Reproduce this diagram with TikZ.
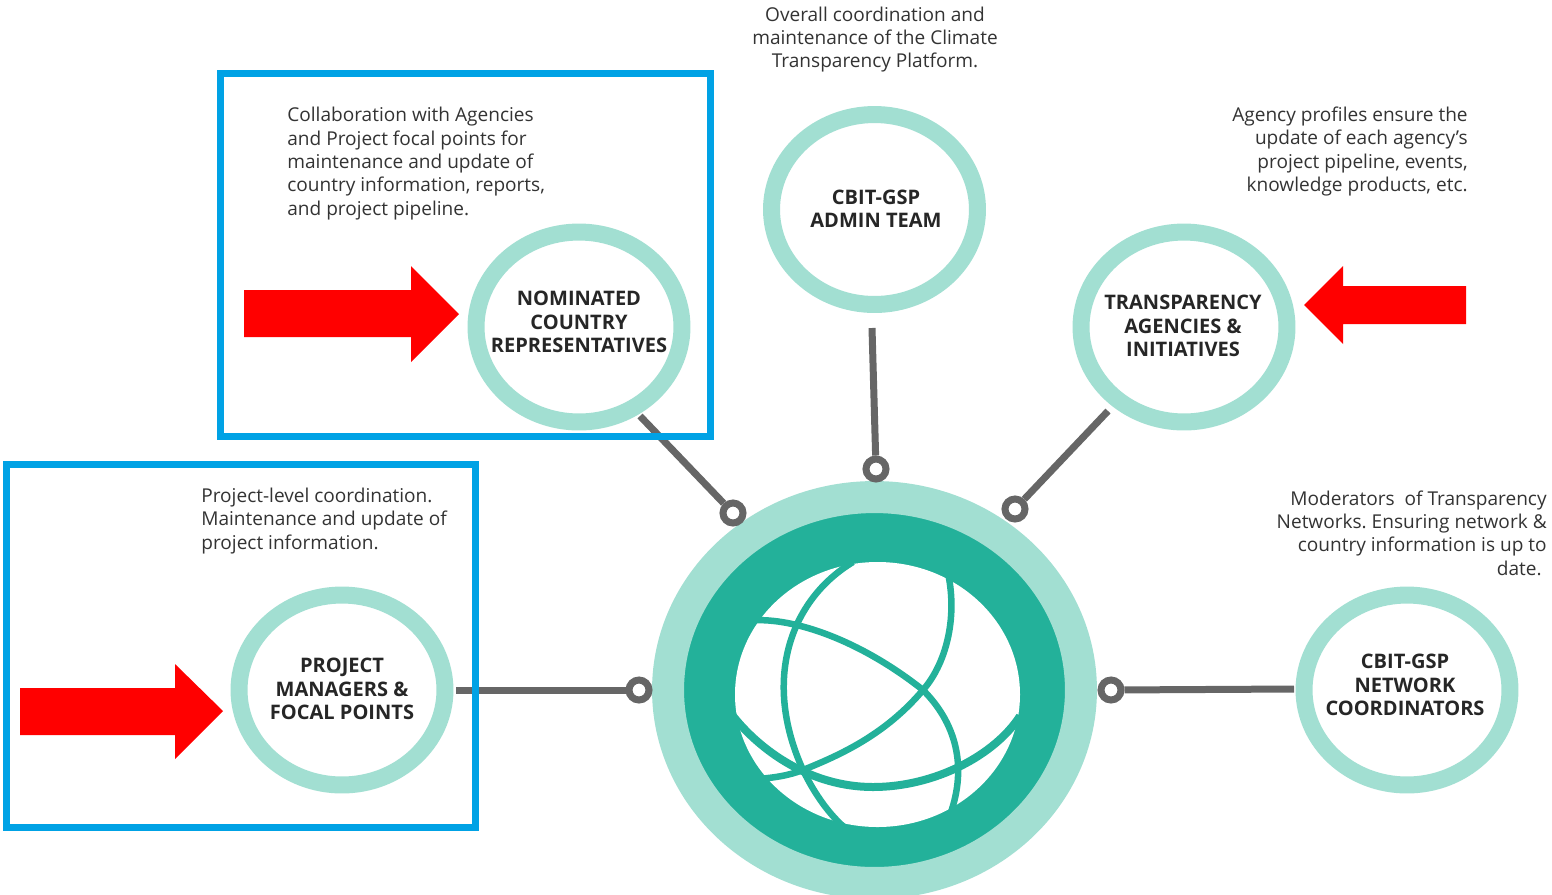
\documentclass[tikz,border=0pt]{standalone}
\usepackage{fontspec}
\setmainfont{Open Sans}
\usetikzlibrary{shapes.geometric}
\definecolor{ringmint}{HTML}{A2DFD2}
\definecolor{hubgreen}{HTML}{23B19A}
\definecolor{linkgrey}{HTML}{666666}
\definecolor{boxblue}{HTML}{00A2E5}
\definecolor{inkdark}{HTML}{333333}
\tikzset{
	ring/.style={ellipse,draw=ringmint,fill=white,line width=0.34cm,minimum width=4.12cm,minimum height=3.8cm,inner sep=0pt},
	hubring/.style={ellipse,draw=ringmint,fill=hubgreen,line width=0.64cm,minimum width=8.26cm,minimum height=7.72cm,inner sep=0pt},
	pin/.style={circle,draw=linkgrey,fill=white,line width=0.14cm,minimum size=0.4cm,inner sep=0pt},
	link/.style={draw=linkgrey,line width=0.14cm},
	focusbox/.style={draw=boxblue,line width=0.14cm},
	ringtext/.style={align=center,text=black!85,font=\bfseries\fontsize{11.4}{13.3}\selectfont,inner sep=0pt},
	note/.style={text=inkdark,font=\frenchspacing\fontsize{10.85}{13.3}\selectfont,inner sep=0pt},
	globeband/.style={draw=hubgreen,line width=0.13cm},
}
\begin{document}
\begin{tikzpicture}[x=0.02cm,y=-0.02cm]
	\clip (0,0) rectangle (1552,894);
	\node[hubring] (hub) at (874.5,690) {};
	% globe
	\fill[white] (877.5,694.5) ellipse [x radius=142.5,y radius=132.5];
	\draw[globeband] (745,621) .. controls (790,615) and (860,640) .. (923,690) .. controls (955,722) and (968,765) .. (950,815);
	\draw[globeband] (853,562) .. controls (790,600) and (762,680) .. (803,770) .. controls (815,795) and (830,815) .. (845,828);
	\draw[globeband] (948,573) .. controls (958,620) and (945,665) .. (923,690) .. controls (885,735) and (840,755) .. (803,770) .. controls (790,775) and (775,778) .. (755,779);
	\draw[globeband,line width=0.16cm] (733,716) .. controls (760,750) and (810,787) .. (873,787) .. controls (935,787) and (995,755) .. (1020,716);

	\node[ring] (nominated) at (579,327) {};
	\node[ring] (admin) at (874.5,209.5) {};
	\node[ring] (transparency) at (1184,327) {};
	\node[ring] (project) at (342,690) {};
	\node[ring] (network) at (1407,690) {};

	\node[ringtext] (nominatedlabel) at (579,322) {NOMINATED\\COUNTRY\\REPRESENTATIVES};
	\node[ringtext] (adminlabel) at (876,209) {CBIT-GSP\\ADMIN TEAM};
	\node[ringtext] (transparencylabel) at (1183,326) {TRANSPARENCY\\AGENCIES \&\\INITIATIVES};
	\node[ringtext] (projectlabel) at (342,689) {PROJECT\\MANAGERS \&\\FOCAL POINTS};
	\node[ringtext] (networklabel) at (1405,685) {CBIT-GSP\\NETWORK\\COORDINATORS};

	\node[pin] (nominatedpin) at (733,513) {};
	\node[pin] (adminpin) at (876,469) {};
	\node[pin] (transparencypin) at (1015,509) {};
	\node[pin] (projectpin) at (639,690) {};
	\node[pin] (networkpin) at (1111,690) {};

	\coordinate (nominatedend) at (640,416);
	\coordinate (adminend) at (872,328);
	\coordinate (transparencyend) at (1108,411);
	\coordinate (projectend) at (456,690);
	\coordinate (networkend) at (1294,689);

	\path[link] (nominatedend) edge (nominatedpin);
	\path[link] (adminend) edge (adminpin);
	\path[link] (transparencyend) edge (transparencypin);
	\path[link] (projectend) edge (projectpin);
	\path[link] (networkend) edge (networkpin);

	\draw[focusbox] (220.5,73.5) rectangle (710.5,436.5);
	\draw[focusbox] (6.5,464) rectangle (475.5,827);

	\fill[red] (244,290) -- (411,290) -- (411,266) -- (459,314) -- (411,362) -- (411,337) -- (244,337) -- cycle;
	\fill[red] (20,688) -- (175,688) -- (175,664) -- (223,711) -- (175,759) -- (175,735) -- (20,735) -- cycle;
	\fill[red] (1466,286) -- (1343,286) -- (1343,266) -- (1304,305) -- (1343,344) -- (1343,324) -- (1466,324) -- cycle;

	\node[note,align=center] (adminnote) at (875,39.5) {Overall coordination and\\maintenance of the Climate\\Transparency Platform.};
	\node[note,align=left,anchor=west] (nominatednote) at (287,163.5) {Collaboration with Agencies\\and Project focal points for\\maintenance and update of\\country information, reports,\\and project pipeline.};
	\node[note,align=right,anchor=east] (transparencynote) at (1468,151.5) {Agency profiles ensure the\\update of each agency's\\project pipeline, events,\\knowledge products, etc.};
	\node[note,align=left,anchor=west] (projectnote) at (201,521) {Project-level coordination.\\Maintenance and update of\\project information.};
	\node[note,align=right,anchor=east] (networknote) at (1547,533) {Moderators~ of Transparency\\Networks. Ensuring network \&\\country information is up to\\date.\hspace*{0.1cm}};
\end{tikzpicture}
\end{document}
